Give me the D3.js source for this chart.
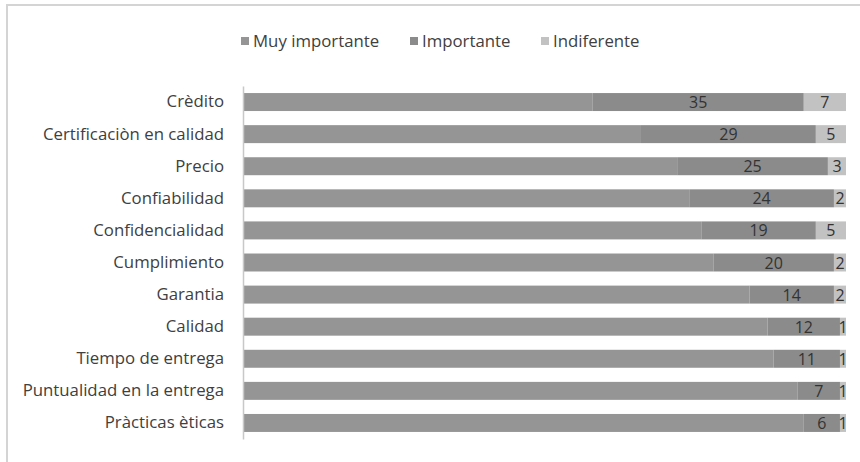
<!DOCTYPE html>
<html>
<head>
<meta charset="utf-8">
<script src="https://cdn.jsdelivr.net/npm/d3@7"></script>
<style>
  body { margin: 0; background: #fff; }
  text { font-family: "Open Sans", Lato, sans-serif; }
</style>
</head>
<body>
<svg id="chart" width="860" height="462"></svg>
<script>
// factores (de arriba a abajo)
var categories = ["Crèdito", "Certificaciòn en calidad", "Precio", "Confiabilidad",
    "Confidencialidad", "Cumplimiento", "Garantia", "Calidad", "Tiempo de entrega",
    "Puntualidad en la entrega", "Pràcticas èticas"];
var muyImportante = [58, 66, 72, 74, 76, 78, 84, 87, 88, 92, 93];
var importante = [35, 29, 25, 24, 19, 20, 14, 12, 11, 7, 6];
var indiferente = [7, 5, 3, 2, 5, 2, 2, 1, 1, 1, 1];
var seriesNames = ["Muy importante", "Importante", "Indiferente"];
var seriesColors = ["#959595", "#8b8b8b", "#c2c2c2"];

var svg = d3.select("#chart");

// marco
svg.append("path")
    .attr("d", "M7,462 L7,5 L862,5")
    .style("fill", "none")
    .style("stroke", "#d4d4d4")
    .style("stroke-width", 2);

var plotLeft = 243, plotRight = 846, plotTop = 86, plotBottom = 439;
var fontSize = "16.8px";

var rows = categories.map(function(c, i) {
    return { cat: c, "Muy importante": muyImportante[i], "Importante": importante[i], "Indiferente": indiferente[i] };
});
var stack = d3.stack().keys(seriesNames)(rows);

var x = d3.scaleLinear().domain([0, 100]).range([plotLeft, plotRight]);
var y = d3.scaleBand().domain(categories).range([plotTop, plotBottom]).paddingInner(0.44).paddingOuter(0.22);

var layers = svg.append("g").selectAll("g")
    .data(stack)
    .enter().append("g")
    .style("fill", function(d, i) { return seriesColors[i]; });

layers.selectAll("rect")
    .data(function(d) { return d; })
    .enter().append("rect")
    .attr("x", function(d) { return x(d[0]); })
    .attr("y", function(d) { return y(d.data.cat); })
    .attr("width", function(d) { return x(d[1]) - x(d[0]); })
    .attr("height", y.bandwidth());

// etiquetas de valores (solo Importante e Indiferente)
stack.slice(1).forEach(function(layer) {
    svg.append("g").selectAll("text")
        .data(layer)
        .enter().append("text")
        .attr("x", function(d) { return (x(d[0]) + x(d[1])) / 2; })
        .attr("y", function(d) { return y(d.data.cat) + y.bandwidth() / 2 + 6; })
        .attr("text-anchor", "middle")
        .attr("fill", "#333")
        .attr("font-size", "16px")
        .text(function(d) { return d[1] - d[0]; });
});

// eje vertical
var axis = svg.append("g")
    .attr("transform", "translate(" + plotLeft + ",0)")
    .call(d3.axisLeft(y).tickSize(0).tickPadding(19));
axis.select(".domain").style("stroke", "#c8c8c8").attr("stroke-width", 1.5);
axis.selectAll("text")
    .style("font-family", "'Open Sans', Lato, sans-serif")
    .attr("font-size", fontSize)
    .attr("fill", "#404040");

// leyenda
var legendX = [241, 410, 541];
var legend = svg.append("g").selectAll("g")
    .data(seriesNames)
    .enter().append("g")
    .attr("transform", function(d, i) { return "translate(" + legendX[i] + ",37)"; });
legend.append("rect")
    .attr("width", 8)
    .attr("height", 8)
    .style("fill", function(d, i) { return seriesColors[i]; });
legend.append("text")
    .attr("x", 12)
    .attr("y", 10)
    .attr("font-size", fontSize)
    .attr("fill", "#404040")
    .text(function(d) { return d; });
</script>
</body>
</html>
